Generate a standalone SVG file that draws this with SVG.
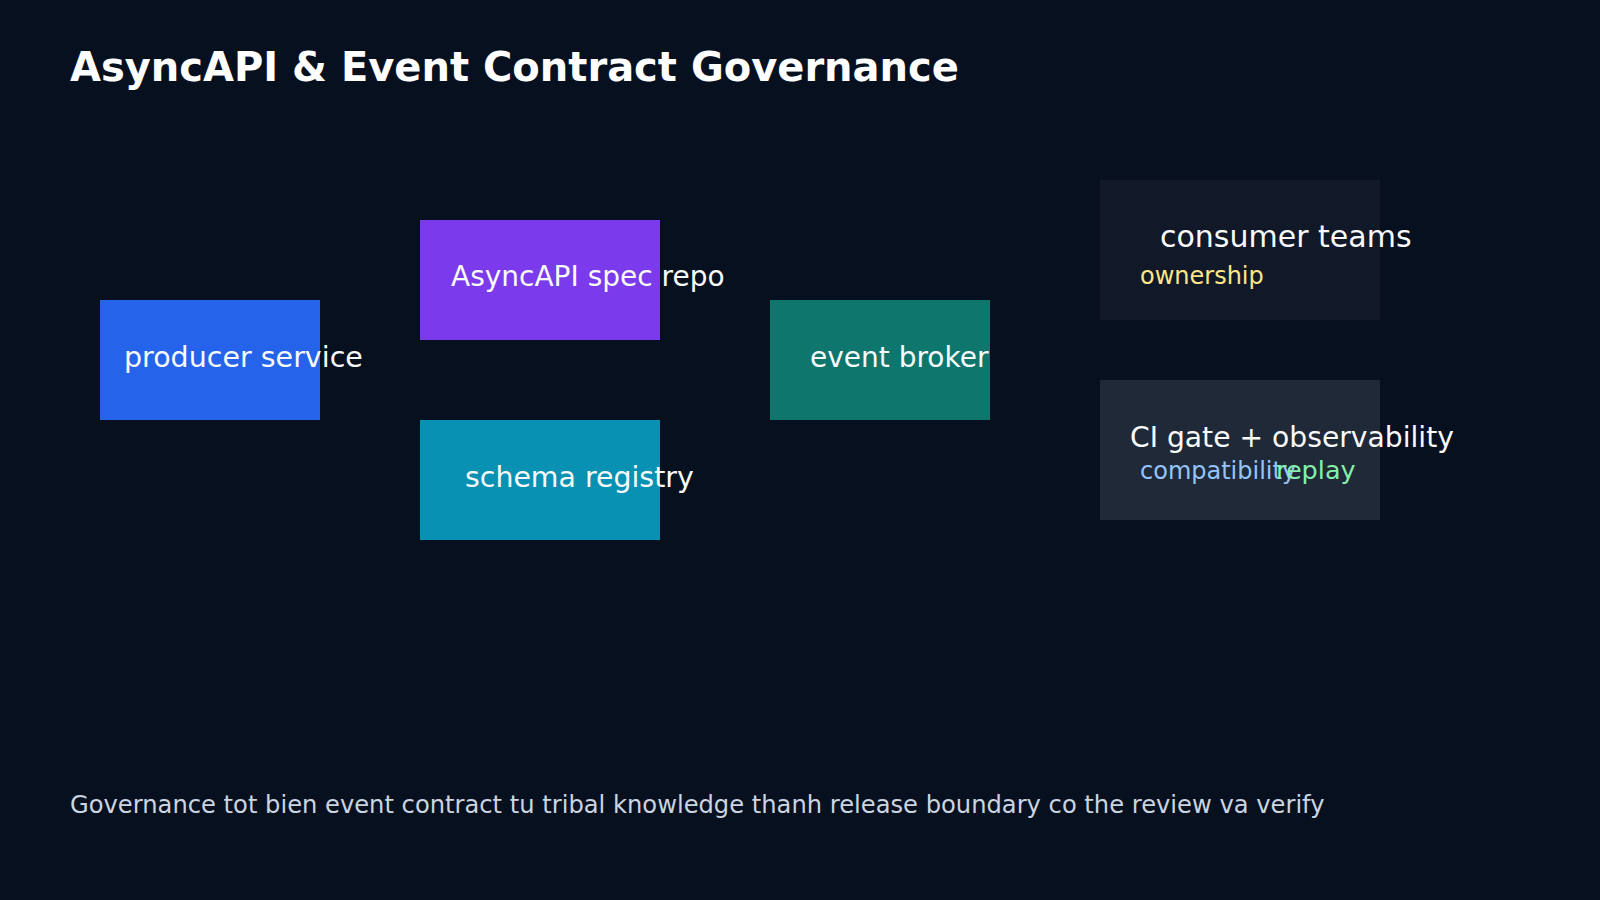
<svg xmlns="http://www.w3.org/2000/svg" width="1600" height="900" viewBox="0 0 1600 900">
<style>
text{font-family:"DejaVu Sans","Liberation Sans",sans-serif;}
.title{font-size:40px;font-weight:bold;fill:#ffffff;}
.lbl{font-size:28px;fill:#f8fafc;}
.sub{font-size:24px;}
.cap{font-size:24.2px;fill:#cbd5e1;}
</style>
<rect width="1600" height="900" fill="#07101f"/>
<text class="title" x="70" y="81">AsyncAPI &amp; Event Contract Governance</text>
<g id="connectors"></g>
<g id="producer"><rect x="100" y="300" width="220" height="120" fill="#2563eb"/><text class="lbl" x="124" y="367" style="font-size:28.5px">producer service</text></g>
<g id="spec-repo"><rect x="420" y="220" width="240" height="120" fill="#7c3aed"/><text class="lbl" x="451" y="286">AsyncAPI spec repo</text></g>
<g id="schema-registry"><rect x="420" y="420" width="240" height="120" fill="#0891b2"/><text class="lbl" x="465" y="487" style="font-size:28.4px">schema registry</text></g>
<g id="event-broker"><rect x="770" y="300" width="220" height="120" fill="#0f766e"/><text class="lbl" x="810" y="367">event broker</text></g>
<g id="consumer-teams"><rect x="1100" y="180" width="280" height="140" fill="#111827"/><text class="lbl" x="1160" y="247" style="font-size:30px">consumer teams</text><text class="sub" x="1140" y="284" fill="#fde68a">ownership</text></g>
<g id="ci-gate"><rect x="1100" y="380" width="280" height="140" fill="#1f2937"/><text class="lbl" x="1130" y="447" style="font-size:28.2px">CI gate + observability</text><text class="sub" x="1140" y="479" fill="#93c5fd">compatibility</text><text class="sub" x="1276" y="479" fill="#86efac" style="font-size:25.5px">replay</text></g>
<text class="cap" x="70" y="813">Governance tot bien event contract tu tribal knowledge thanh release boundary co the review va verify</text>
</svg>
